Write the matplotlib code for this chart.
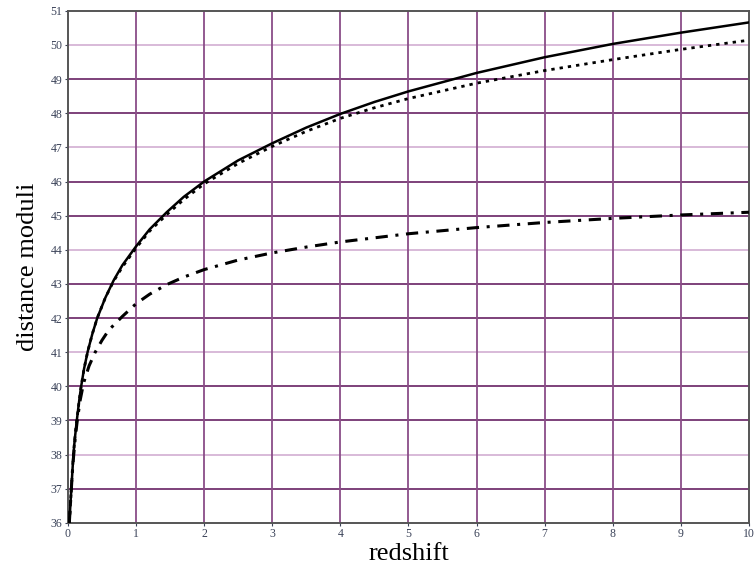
import matplotlib
matplotlib.use("Agg")
import matplotlib.pyplot as plt

# values
z_solid = [0.02, 0.035, 0.05, 0.065, 0.08, 0.1, 0.13, 0.16, 0.19, 0.235, 0.29,
           0.36, 0.43, 0.55, 0.67, 0.8, 1.0, 1.2, 1.45, 1.7, 2.0,
           2.5, 3.0, 3.5, 4.0, 4.5, 5.0, 6.0, 7.0, 8.0, 9.0, 10.0]
mu_solid = [36.0, 36.5, 37.0, 37.5, 38.0, 38.45, 39.0, 39.5, 39.95, 40.5, 41.02,
            41.55, 42.0, 42.6, 43.1, 43.55, 44.1, 44.6, 45.1, 45.55, 46.0,
            46.62, 47.12, 47.58, 47.98, 48.33, 48.64, 49.18, 49.64, 50.03, 50.36, 50.66]

z_dotted = [0.02, 0.035, 0.05, 0.065, 0.08, 0.1, 0.13, 0.16, 0.19, 0.235, 0.29,
            0.36, 0.43, 0.55, 0.67, 0.8, 1.0, 1.2, 1.45, 1.7, 2.0,
            2.5, 3.0, 3.5, 4.0, 4.5, 5.0, 6.0, 7.0, 8.0, 9.0, 10.0]
mu_dotted = [36.0, 36.5, 37.0, 37.5, 38.0, 38.45, 39.0, 39.5, 39.95, 40.5, 41.02,
             41.55, 42.0, 42.6, 43.08, 43.5, 44.05, 44.55, 45.03, 45.47, 45.93,
             46.53, 47.03, 47.47, 47.85, 48.16, 48.43, 48.88, 49.25, 49.57, 49.87, 50.14]

z_dashdot = [0.02, 0.035, 0.05, 0.065, 0.085, 0.11, 0.14, 0.18, 0.23, 0.31, 0.4,
             0.5, 0.6, 0.8, 1.0, 1.2, 1.45, 1.7, 2.0, 2.5, 3.0, 3.5,
             4.0, 5.0, 6.0, 7.0, 8.0, 9.0, 10.0]
mu_dashdot = [36.0, 36.5, 37.0, 37.5, 38.0, 38.55, 39.05, 39.6, 40.1, 40.6, 41.0,
              41.35, 41.65, 42.05, 42.42, 42.7, 42.98, 43.2, 43.42, 43.7, 43.91, 44.08,
              44.23, 44.47, 44.65, 44.8, 44.92, 45.02, 45.1]

x_ticks = list(range(0, 11))
y_ticks = list(range(36, 52))
light_rows = [38, 41, 44, 47, 50]

fig = plt.figure(figsize=(7.55, 5.69), dpi=100)
ax = fig.add_axes([0.090, 0.081, 0.902, 0.900])

# grid, drawn by hand so some rows can be lighter
for yv in y_ticks[1:-1]:
    col = "#d6b4d6" if yv in light_rows else "#73336f"
    ax.axhline(yv, color=col, lw=1.3, zorder=1)
for xv in x_ticks[1:-1]:
    ax.axvline(xv, color="#8a4d88", lw=1.3, zorder=1)

ax.plot(z_solid, mu_solid, color="black", lw=1.8, ls="-", zorder=3)
ax.plot(z_dotted, mu_dotted, color="black", lw=2.0, ls=(0, (1.2, 1.8)), zorder=3)
ax.plot(z_dashdot, mu_dashdot, color="black", lw=2.2, ls=(0, (4, 2.5, 1, 2.5)), zorder=3)

ax.set_xlim(0, 10)
ax.set_ylim(36, 51)
ax.set_xticks(x_ticks)
ax.set_yticks(y_ticks)
ax.tick_params(labelsize=8.5, colors="#3a4258", length=2, width=0.8, pad=2)
for lab in ax.get_xticklabels() + ax.get_yticklabels():
    lab.set_family("Liberation Serif")
for s in ax.spines.values():
    s.set_color("#555555")
    s.set_linewidth(1.4)

ax.set_xlabel("redshift", family="Liberation Serif", fontsize=19, labelpad=2)
ax.set_ylabel("distance moduli", family="Liberation Serif", fontsize=19, labelpad=8)

fig.savefig("out.png", dpi=100)
